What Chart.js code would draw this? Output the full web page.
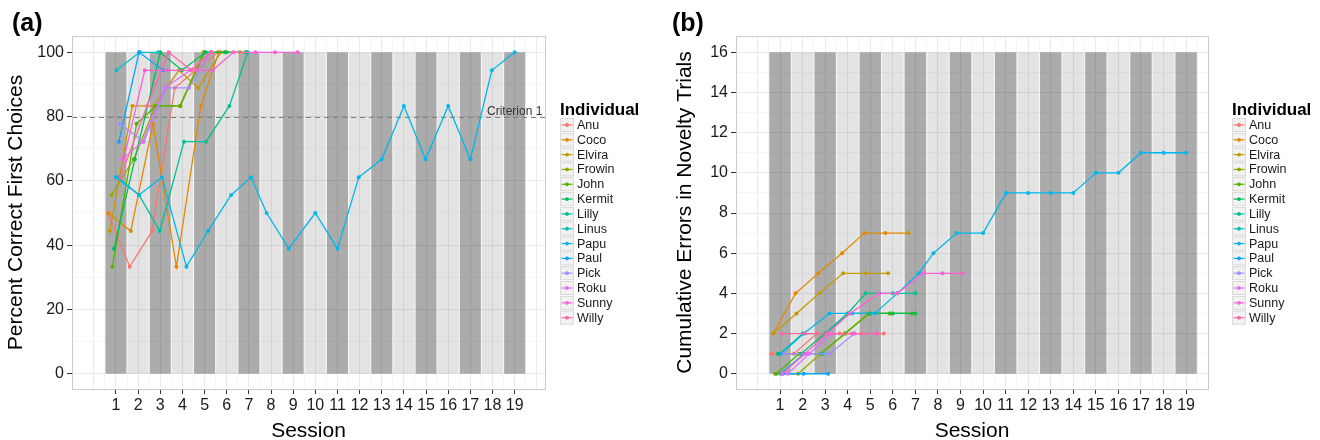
<!DOCTYPE html>
<html>
<head>
<meta charset="utf-8">
<script src="https://cdn.jsdelivr.net/npm/chart.js@4.4.1/dist/chart.umd.min.js"></script>
<style>
  html, body { margin: 0; padding: 0; background: #fff; overflow: hidden; }
  .panel { position: absolute; top: 0; width: 660px; height: 450px; }
  #panelA { left: 0; }
  #panelB { left: 660px; }
</style>
</head>
<body>
<div class="panel" id="panelA"><canvas id="chartA" width="660" height="450"></canvas></div>
<div class="panel" id="panelB"><canvas id="chartB" width="660" height="450"></canvas></div>
<script>
var individuals = ['Anu', 'Coco', 'Elvira', 'Frowin', 'John', 'Kermit', 'Lilly', 'Linus', 'Papu', 'Paul', 'Pick', 'Roku', 'Sunny', 'Willy'];
var colours = ['#F8766D', '#E38900', '#C49A00', '#99A800', '#53B400', '#00BC56', '#00C094', '#00BFC4', '#00B6EB', '#06A4FF', '#A58AFF', '#DF70F8', '#FB61D7', '#FF66A8'];
var sessionTicks = [1, 2, 3, 4, 5, 6, 7, 8, 9, 10, 11, 12, 13, 14, 15, 16, 17, 18, 19];
var pctTicks = [0, 20, 40, 60, 80, 100];
var errTicks = [0, 2, 4, 6, 8, 10, 12, 14, 16];
var criterion = 80;

// (a) session positions (jittered as in the plot) and percent correct, one row per individual
var sessA = [
  [0.64, 1.62, 2.63, 3.65, 4.6, 5.6],
  [0.66, 1.67, 2.67, 3.73, 4.83, 5.64, 6.6],
  [0.72, 1.74, 2.72, 3.84, 4.72, 5.73],
  [0.8, 1.8, 2.78, 3.88, 4.95, 5.9],
  [0.84, 1.93, 2.81, 3.91, 5.0, 6.0, 6.85],
  [0.91, 1.85, 3.0, 3.98, 5.05, 5.95, 6.9],
  [1.07, 2.04, 2.98, 4.07, 5.07, 6.12, 6.95],
  [1.02, 2.07, 2.9],
  [1.0, 2.04, 3.08, 4.18, 5.16, 6.2, 7.1, 7.8, 8.8, 10.0, 11.0, 11.96, 13.0, 14.0, 14.98, 16.0, 17.0, 17.97, 19.0],
  [1.13, 2.04, 3.13],
  [1.17, 2.25, 3.25, 4.29, 5.27],
  [1.28, 2.2, 3.2, 4.36, 5.3],
  [1.35, 2.3, 3.32, 4.63, 5.36, 6.3, 7.3, 8.18, 9.2],
  [1.2, 2.4, 3.38, 4.4, 5.3]
];
var pctCorrect = [
  [50, 33.3, 44.4, 88.9, 94.4, 100],
  [50, 44.4, 77.8, 33.3, 83.3, 100, 100],
  [44.4, 83.3, 83.3, 94.4, 88.9, 100],
  [55.6, 66.7, 83.3, 83.3, 100, 100],
  [33.3, 77.8, 83.3, 83.3, 100, 100, 100],
  [38.9, 66.7, 100, 94.4, 100, 100, 100],
  [61.1, 55.6, 44.4, 72.2, 72.2, 83.3, 100],
  [94.4, 100, 100],
  [61.1, 55.6, 61.1, 33.3, 44.4, 55.6, 61.1, 50, 38.9, 50, 38.9, 61.1, 66.7, 83.3, 66.7, 83.3, 66.7, 94.4, 100],
  [72.2, 100, 94.4],
  [77.8, 72.2, 88.9, 88.9, 100],
  [66.7, 72.2, 88.9, 94.4, 100],
  [66.7, 94.4, 94.4, 94.4, 94.4, 100, 100, 100, 100],
  [61.1, 83.3, 100, 94.4, 100]
];

// (b) session positions and cumulative errors in novelty trials
var sessB = [
  [0.62, 1.62, 2.63, 3.65, 4.6, 5.6],
  [0.7, 1.69, 2.7, 3.75, 4.74, 5.67, 6.69],
  [0.7, 1.73, 2.74, 3.8, 4.8, 5.79],
  [0.78, 1.8, 2.8, 3.87, 4.93, 5.85],
  [0.84, 1.85, 2.81, 3.9, 4.95, 5.9, 6.85],
  [0.91, 1.93, 3.0, 4.0, 5.0, 6.0, 7.0],
  [1.0, 2.0, 3.0, 4.0, 4.8, 6.0, 7.0],
  [1.02, 2.07, 2.9],
  [1.05, 2.05, 3.2, 4.2, 5.2, 6.2, 7.15, 7.8, 8.83, 10.0, 11.02, 12.0, 13.0, 14.0, 15.0, 16.0, 17.0, 18.0, 19.0],
  [1.13, 2.04, 3.13],
  [1.17, 2.23, 3.2, 4.3, 5.27],
  [1.35, 2.3, 3.3, 4.3, 5.3],
  [1.1, 2.1, 3.1, 4.1, 5.4, 6.2, 7.34, 8.2, 9.1],
  [1.08, 2.1, 3.1, 4.2, 5.3]
];
var cumErrors = [
  [1, 1, 2, 2, 2, 2],
  [2, 4, 5, 6, 7, 7, 7],
  [2, 3, 4, 5, 5, 5],
  [0, 0, 1, 2, 3, 3],
  [0, 1, 1, 2, 3, 3, 3],
  [1, 1, 2, 3, 3, 3, 3],
  [1, 2, 2, 3, 4, 4, 4],
  [0, 1, 1],
  [1, 2, 3, 3, 3, 4, 5, 6, 7, 7, 9, 9, 9, 9, 10, 10, 11, 11, 11],
  [0, 0, 0],
  [1, 1, 1, 2, 2],
  [0, 1, 2, 2, 2],
  [0, 1, 2, 3, 4, 4, 5, 5, 5],
  [2, 2, 2, 2, 2]
];

var FONT = '"Liberation Sans", Arial, Helvetica, sans-serif';
Chart.defaults.font.family = FONT;

// background bands, criterion line, frame, panel letter and legend
var panelDecor = {
  id: 'panelDecor',
  beforeDatasetsDraw: function(chart, args, o) {
    var ctx = chart.ctx, xs = chart.scales.x, ys = chart.scales.y, a = chart.chartArea;
    ctx.save();
    sessionTicks.forEach(function(s) {
      var x0 = xs.getPixelForValue(s - 0.475), x1 = xs.getPixelForValue(s + 0.475);
      var y0 = ys.getPixelForValue(o.bandTop), y1 = ys.getPixelForValue(0);
      ctx.fillStyle = s % 2 ? 'rgba(0,0,0,0.33)' : 'rgba(0,0,0,0.11)';
      ctx.fillRect(x0, y0, x1 - x0, y1 - y0);
    });
    if (o.criterion != null) {
      var yc = Math.round(ys.getPixelForValue(o.criterion)) + 0.5;
      ctx.strokeStyle = '#808080';
      ctx.lineWidth = 1;
      ctx.setLineDash([5, 4]);
      ctx.beginPath();
      ctx.moveTo(a.left, yc);
      ctx.lineTo(a.right, yc);
      ctx.stroke();
      ctx.setLineDash([]);
      ctx.fillStyle = '#333';
      ctx.font = '12px ' + FONT;
      ctx.textAlign = 'left';
      ctx.textBaseline = 'alphabetic';
      ctx.fillText('Criterion 1', 487, yc - 3);
    }
    ctx.restore();
  },
  afterDraw: function(chart, args, o) {
    var ctx = chart.ctx, a = chart.chartArea;
    ctx.save();
    ctx.strokeStyle = '#CCCCCC';
    ctx.lineWidth = 1;
    ctx.strokeRect(Math.round(a.left) + 0.5, Math.round(a.top) + 0.5, Math.round(a.right - a.left), Math.round(a.bottom - a.top));

    ctx.fillStyle = '#000';
    ctx.textAlign = 'left';
    ctx.textBaseline = 'alphabetic';
    ctx.font = 'bold 25px ' + FONT;
    ctx.fillText(o.letter, 12, 31);

    // legend
    var lx = o.legendX;
    ctx.font = 'bold 17px ' + FONT;
    ctx.fillText('Individual', lx, 115);
    ctx.font = '12.5px ' + FONT;
    ctx.textBaseline = 'middle';
    individuals.forEach(function(name, i) {
      var cy = 125 + i * 14.82;
      ctx.fillStyle = '#F2F2F2';
      ctx.fillRect(lx, cy - 7, 14, 14);
      ctx.strokeStyle = '#DADADA';
      ctx.strokeRect(lx + 0.5, cy - 6.5, 13, 13);
      ctx.strokeStyle = colours[i];
      ctx.lineWidth = 1.2;
      ctx.beginPath();
      ctx.moveTo(lx + 1.5, cy);
      ctx.lineTo(lx + 12.5, cy);
      ctx.stroke();
      ctx.lineWidth = 1;
      ctx.fillStyle = colours[i];
      ctx.beginPath();
      ctx.arc(lx + 7, cy, 1.9, 0, Math.PI * 2);
      ctx.fill();
      ctx.fillStyle = '#1a1a1a';
      ctx.fillText(name, lx + 17, cy + 0.5);
    });
    ctx.restore();
  }
};

function makePanel(id, p) {
  var gridX = [];
  for (var v = 0; v <= 20; v += 0.5) if (v >= p.xMin && v <= p.xMax) gridX.push(v);
  var gridY = [];
  for (var k = 0; k < p.yTicks.length; k++) {
    gridY.push(p.yTicks[k]);
    if (k < p.yTicks.length - 1) gridY.push((p.yTicks[k] + p.yTicks[k + 1]) / 2);
  }

  var datasets = individuals.map(function(name, i) {
    return {
      label: name,
      data: p.sess[i].map(function(x, j) { return { x: x, y: p.vals[i][j] }; }),
      borderColor: colours[i],
      backgroundColor: colours[i],
      pointBackgroundColor: colours[i],
      borderWidth: 1.3,
      pointRadius: 2,
      pointBorderWidth: 0,
      tension: 0,
      order: individuals.length - i
    };
  });

  return new Chart(document.getElementById(id), {
    type: 'line',
    data: { datasets: datasets },
    options: {
      responsive: false,
      animation: false,
      events: [],
      layout: { padding: { left: 0, top: 36, right: p.padRight, bottom: 0 } },
      plugins: {
        legend: { display: false },
        tooltip: { enabled: false },
        panelDecor: { bandTop: p.yTicks[p.yTicks.length - 1], criterion: p.criterion, letter: p.letter, legendX: p.legendX }
      },
      scales: {
        x: {
          type: 'linear',
          min: p.xMin,
          max: p.xMax,
          afterBuildTicks: function(s) { s.ticks = gridX.map(function(v) { return { value: v }; }); },
          afterFit: function(s) { s.height = 61; },
          border: { display: false },
          grid: {
            lineWidth: 1,
            tickLength: 5,
            color: function(c) { return c.tick && Number.isInteger(c.tick.value) ? '#EBEBEB' : '#F5F5F5'; },
            tickColor: function(c) { return c.tick && sessionTicks.indexOf(c.tick.value) >= 0 ? '#333333' : 'rgba(0,0,0,0)'; }
          },
          ticks: {
            autoSkip: false,
            maxRotation: 0,
            padding: 2,
            color: '#1a1a1a',
            font: { size: 16 },
            callback: function(v) { return sessionTicks.indexOf(v) >= 0 ? String(v) : ''; }
          },
          title: { display: true, text: 'Session', color: '#000', font: { size: 21 }, padding: { top: 0, bottom: 6 } }
        },
        y: {
          type: 'linear',
          min: p.yMin,
          max: p.yMax,
          afterBuildTicks: function(s) { s.ticks = gridY.map(function(v) { return { value: v }; }); },
          afterFit: function(s) { s.width = p.yWidth; },
          border: { display: false },
          grid: {
            lineWidth: 1,
            tickLength: 5,
            color: function(c) { return c.tick && p.yTicks.indexOf(c.tick.value) >= 0 ? '#EBEBEB' : '#F5F5F5'; },
            tickColor: function(c) { return c.tick && p.yTicks.indexOf(c.tick.value) >= 0 ? '#333333' : 'rgba(0,0,0,0)'; }
          },
          ticks: {
            autoSkip: false,
            padding: 3,
            color: '#1a1a1a',
            font: { size: 16 },
            callback: function(v) { return p.yTicks.indexOf(v) >= 0 ? String(v) : ''; }
          },
          title: { display: true, text: p.yTitle, color: '#000', font: { size: 21 }, padding: { top: p.yTitlePad, bottom: 0 } }
        }
      }
    },
    plugins: [panelDecor]
  });
}

makePanel('chartA', {
  sess: sessA, vals: pctCorrect, yTicks: pctTicks,
  xMin: -0.986, xMax: 20.37, yMin: -4.76, yMax: 105.07,
  yWidth: 72, padRight: 115, yTitlePad: 4, legendX: 560,
  yTitle: 'Percent Correct First Choices', letter: '(a)', criterion: criterion
});
makePanel('chartB', {
  sess: sessB, vals: cumErrors, yTicks: errTicks,
  xMin: -0.951, xMax: 19.97, yMin: -0.76, yMax: 16.81,
  yWidth: 76, padRight: 112, yTitlePad: 13, legendX: 572,
  yTitle: 'Cumulative Errors in Novelty Trials', letter: '(b)', criterion: null
});
</script>
</body>
</html>
